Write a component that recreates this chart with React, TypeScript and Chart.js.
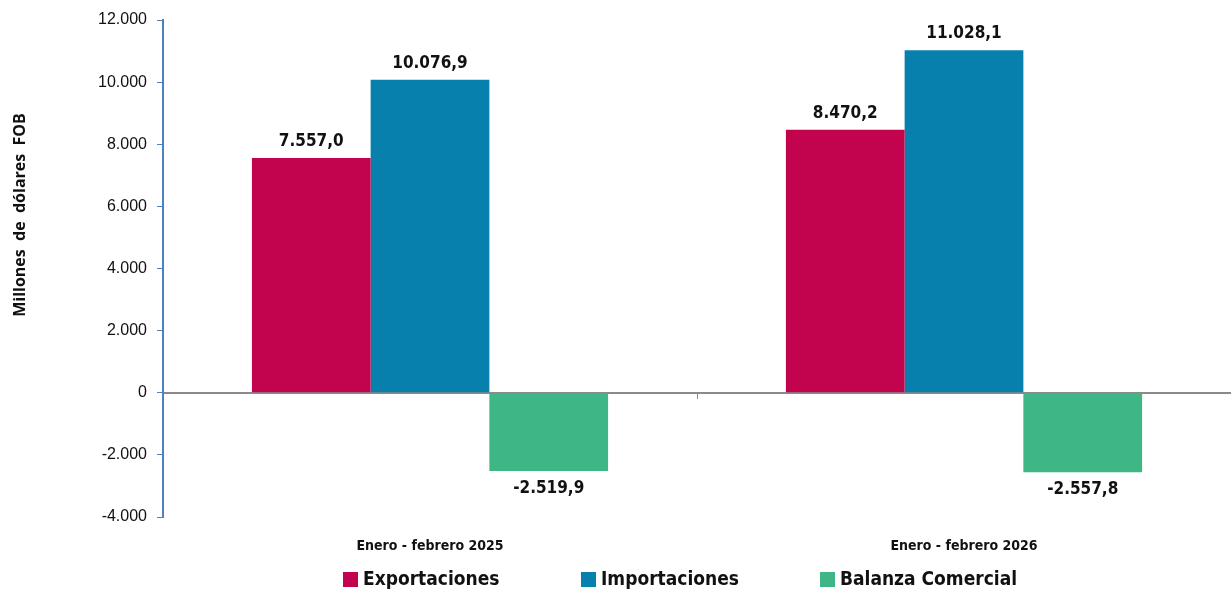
import React, { useEffect, useRef } from "react";
import { Chart, registerables } from "chart.js";

Chart.register(...registerables);

const categories = ["Enero - febrero 2025", "Enero - febrero 2026"];
const exportaciones = [7557.0, 8470.2];
const importaciones = [10076.9, 11028.1];
const balanza = [-2519.9, -2557.8];
const seriesNames = ["Exportaciones", "Importaciones", "Balanza Comercial"];
const seriesColors = ["#C2044F", "#0880AE", "#3EB686"];
const yTicks = [-4000, -2000, 0, 2000, 4000, 6000, 8000, 10000, 12000];
const yTitle = "Millones  de  dólares  FOB";

const condensed = "'Liberation Sans Narrow', 'DejaVu Sans Condensed', 'Liberation Sans', sans-serif";

function fmtThousands(v: number, decimals: number): string {
  const neg = v < 0;
  const abs = Math.abs(v);
  const fixed = abs.toFixed(decimals);
  const [intPart, decPart] = fixed.split(".");
  const withDots = intPart.replace(/\B(?=(\d{3})+(?!\d))/g, ".");
  return (neg ? "-" : "") + withDots + (decPart ? "," + decPart : "");
}

const valueLabels = {
  id: "valueLabels",
  afterDatasetsDraw(chart: any) {
    const ctx = chart.ctx;
    ctx.save();
    ctx.font = `bold 17px ${condensed}`;
    ctx.fillStyle = "#111";
    ctx.textAlign = "center";
    chart.data.datasets.forEach((ds: any, di: number) => {
      const meta = chart.getDatasetMeta(di);
      meta.data.forEach((bar: any, i: number) => {
        const v = ds.data[i];
        const txt = fmtThousands(v, 1);
        if (v >= 0) {
          ctx.textBaseline = "bottom";
          ctx.fillText(txt, bar.x, bar.y - 8);
        } else {
          ctx.textBaseline = "top";
          ctx.fillText(txt, bar.x, bar.y + 9);
        }
      });
    });
    ctx.restore();
  },
};

const sideTitle = {
  id: "sideTitle",
  afterDraw(chart: any) {
    const ctx = chart.ctx;
    ctx.save();
    ctx.translate(20, 215);
    ctx.rotate(-Math.PI / 2);
    ctx.font = "bold 16px 'Open Sans', 'DejaVu Sans', sans-serif";
    ctx.fillStyle = "#111";
    ctx.textAlign = "center";
    ctx.textBaseline = "middle";
    ctx.fillText(yTitle, 0, 0);
    ctx.restore();
  },
};

const customLegend = {
  id: "customLegend",
  afterDraw(chart: any) {
    const ctx = chart.ctx;
    const boxX = [343, 581, 820];
    const yc = 580;
    ctx.save();
    ctx.font = `bold 19px ${condensed}`;
    ctx.textBaseline = "middle";
    ctx.textAlign = "left";
    chart.data.datasets.forEach((ds: any, i: number) => {
      ctx.fillStyle = ds.backgroundColor;
      ctx.fillRect(boxX[i], yc - 8, 15, 15);
      ctx.fillStyle = "#111";
      ctx.fillText(ds.label, boxX[i] + 20, yc);
    });
    ctx.restore();
  },
};

export default function App() {
  const ref = useRef<HTMLCanvasElement>(null);
  useEffect(() => {
    document.body.style.margin = "0";
    const chart = new Chart(ref.current as HTMLCanvasElement, {
      type: "bar",
      data: {
        labels: categories,
        datasets: [
          { label: seriesNames[0], data: exportaciones, backgroundColor: seriesColors[0] },
          { label: seriesNames[1], data: importaciones, backgroundColor: seriesColors[1] },
          { label: seriesNames[2], data: balanza, backgroundColor: seriesColors[2] },
        ],
      },
      options: {
        animation: false,
        responsive: false,
        maintainAspectRatio: false,
        layout: { padding: { top: 20, right: 0, bottom: 0, left: 0 } },
        datasets: { bar: { barPercentage: 1, categoryPercentage: 0.667 } } as any,
        plugins: {
          legend: { display: false },
          tooltip: { enabled: false },
        },
        scales: {
          x: {
            position: "bottom",
            grid: { display: false, drawTicks: false },
            border: { display: false },
            ticks: {
              padding: 21,
              color: "#111",
              font: { family: condensed, size: 14, weight: "bold" },
            },
            afterFit: (s: any) => {
              s.height = 77;
            },
          },
          x2: {
            type: "category",
            position: { y: 0 } as any,
            offset: true,
            grid: {
              display: true,
              offset: true,
              drawOnChartArea: false,
              drawTicks: true,
              tickLength: 5,
              color: "#8a8a8a",
            },
            border: { display: true, color: "#8a8a8a", width: 2 },
            ticks: { display: false },
          },
          y: {
            min: -4000,
            max: 12000,
            afterBuildTicks: (s: any) => {
              s.ticks = yTicks.map((v) => ({ value: v }));
            },
            grid: {
              display: true,
              drawOnChartArea: false,
              drawTicks: true,
              tickLength: 6,
              color: "#4F81BD",
            },
            border: { display: true, color: "#4F81BD", width: 2 },
            ticks: {
              padding: 10,
              color: "#111",
              font: { family: "'Liberation Sans', Arial, sans-serif", size: 16 },
              callback: (v: any) => fmtThousands(Number(v), 0),
            },
            afterFit: (s: any) => {
              s.width = 163;
            },
          },
        },
      },
      plugins: [valueLabels, sideTitle, customLegend],
    });
    return () => chart.destroy();
  }, []);
  return (
    <div style={{ width: 1231, height: 594, background: "#fff" }}>
      <canvas ref={ref} width={1231} height={594} />
    </div>
  );
}
